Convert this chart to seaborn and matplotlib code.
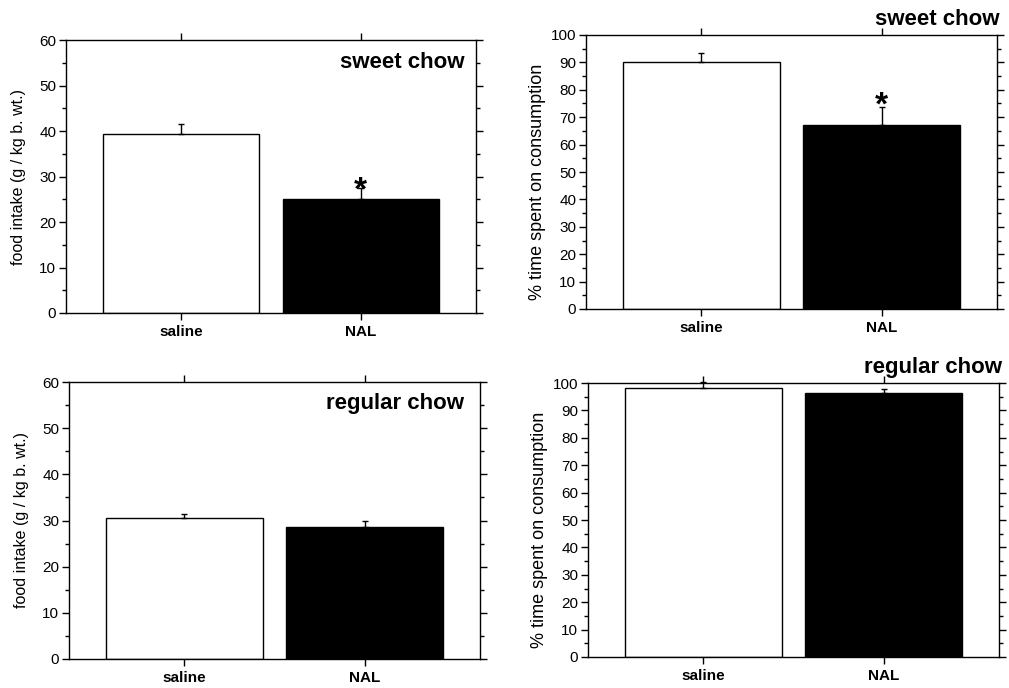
import matplotlib
matplotlib.use("Agg")
import matplotlib.pyplot as plt
from matplotlib.ticker import MultipleLocator
import seaborn as sns

# data (mean, upper SEM)
groups = ['saline', 'NAL']
sweet_intake = [39.4, 25.0]
sweet_intake_sem = [2.2, 2.4]
sweet_time = [90.0, 67.2]
sweet_time_sem = [3.3, 6.6]
regular_intake = [30.5, 28.6]
regular_intake_sem = [0.9, 1.3]
regular_time = [98.1, 96.2]
regular_time_sem = [2.3, 1.6]
# asterisk heights (significant vs saline)
sweet_intake_star = 29.0
sweet_time_star = 77.5

sns.set_style('ticks', {'text.color': 'black', 'axes.labelcolor': 'black',
                        'xtick.color': 'black', 'ytick.color': 'black',
                        'axes.edgecolor': 'black'})
plt.rcParams['font.family'] = ['Liberation Sans', 'DejaVu Sans']

W, H = 1009, 688
fig = plt.figure(figsize=(W / 100, H / 100), dpi=100)


def add_ax(left, right, top, bottom):
    # pixel box -> figure fraction
    return fig.add_axes([left / W, 1 - bottom / H, (right - left) / W, (bottom - top) / H])


def panel(ax, vals, sem, ymax, ylabel, title, title_xy, star=None, ylab_size=11.5):
    sns.barplot(x=groups, y=vals, hue=groups, palette=['white', 'black'],
                edgecolor='black', linewidth=1, width=0.87, legend=False,
                saturation=1, ax=ax)
    eb = ax.errorbar(range(len(groups)), vals, yerr=[[0] * len(sem), sem],
                     fmt='none', ecolor='black', elinewidth=1, capsize=2.5,
                     capthick=1, zorder=5)
    for ch in eb.get_children():
        ch.set_clip_on(False)
    if star is not None:
        ax.annotate('*', xy=(1, star), xytext=(0, -13), textcoords='offset points',
                    ha='center', va='baseline', fontsize=24, fontweight='bold')
    ax.set_xlim(-0.64, 1.64)
    ax.set_ylim(0, ymax)
    ax.yaxis.set_major_locator(MultipleLocator(10))
    ax.yaxis.set_minor_locator(MultipleLocator(5))
    ax.tick_params(axis='both', which='both', direction='out', color='black',
                   top=True, right=True, labelsize=11)
    ax.tick_params(which='major', length=5, width=1)
    ax.tick_params(which='minor', length=3, width=1)
    ax.tick_params(axis='x', pad=4)
    ax.tick_params(axis='y', pad=2)
    for lab in ax.get_xticklabels():
        lab.set_fontweight('bold')
        lab.set_fontsize(11)
    for sp in ax.spines.values():
        sp.set_visible(True)
        sp.set_linewidth(1)
        sp.set_color('black')
    ax.set_xlabel('')
    ax.set_ylabel(ylabel, fontsize=ylab_size)
    ax.text(title_xy[0], title_xy[1], title, transform=ax.transAxes, ha='right',
            va='center', fontsize=16, fontweight='bold')


ax1 = add_ax(66, 476, 40, 313)
panel(ax1, sweet_intake, sweet_intake_sem, 60, 'food intake (g / kg b. wt.)',
      'sweet chow', (0.971, 0.916), star=sweet_intake_star)
ax1.yaxis.set_label_coords(-0.098, 0.5)

ax2 = add_ax(586, 997, 35, 309)
panel(ax2, sweet_time, sweet_time_sem, 100, '% time spent on consumption',
      'sweet chow', (1.007, 1.055), star=sweet_time_star, ylab_size=13)
ax2.yaxis.set_label_coords(-0.097, 0.465)

ax3 = add_ax(69, 480, 382, 659)
panel(ax3, regular_intake, regular_intake_sem, 60, 'food intake (g / kg b. wt.)',
      'regular chow', (0.961, 0.924))
ax3.yaxis.set_label_coords(-0.098, 0.5)

ax4 = add_ax(588, 999, 383, 657)
panel(ax4, regular_time, regular_time_sem, 100, '% time spent on consumption',
      'regular chow', (1.007, 1.058), ylab_size=13)
ax4.yaxis.set_label_coords(-0.097, 0.465)

fig.savefig('out.png', dpi=100)
